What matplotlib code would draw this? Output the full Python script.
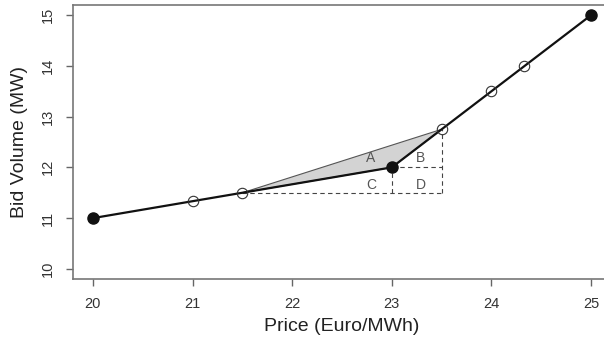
import matplotlib
matplotlib.use("Agg")
import matplotlib.pyplot as plt

# bid curve: kinked piecewise-linear supply
curve_price = [20, 23, 25]
curve_volume = [11, 12, 15]

# observed (filled) and interpolated (open) bid points
filled_price = [20, 23, 25]
filled_volume = [11, 12, 15]
open_price = [21, 21.5, 23.5, 24, 24.33]
open_volume = [11.33, 11.5, 12.75, 13.5, 14]

# shaded triangle between the chord and the kinked curve
tri_price = [21.5, 23.5, 23]
tri_volume = [11.5, 12.75, 12]

area_labels = ["A", "B", "C", "D"]
area_price = [22.79, 23.29, 22.79, 23.29]
area_volume = [12.18, 12.18, 11.66, 11.66]

plt.rcParams["font.family"] = ["Liberation Sans", "DejaVu Sans"]

fig = plt.figure(figsize=(6.04, 3.40), dpi=100)
ax = fig.add_axes([73 / 604, 61 / 340, 538 / 604, 274 / 340])

ax.fill(tri_price, tri_volume, facecolor="#d3d3d3", edgecolor="#555555",
        linewidth=0.8, zorder=1)

dash = dict(color="#444444", linestyle=(0, (4, 3)), linewidth=0.8, zorder=2)
ax.plot([21.5, 23.5], [11.5, 11.5], **dash)
ax.plot([23.5, 23.5], [11.5, 12.75], **dash)
ax.plot([23, 23.5], [12, 12], **dash)
ax.plot([23, 23], [11.5, 12], **dash)

ax.plot(curve_price, curve_volume, color="#111111", linewidth=1.6, zorder=3)
ax.plot(open_price, open_volume, "o", markersize=7.5, markerfacecolor="none",
        markeredgecolor="#333333", markeredgewidth=0.8, zorder=4)
ax.plot(filled_price, filled_volume, "o", markersize=8, color="#111111", zorder=5)

for lab, px, vy in zip(area_labels, area_price, area_volume):
    ax.text(px, vy, lab, ha="center", va="center", fontsize=10, color="#555555")

ax.set_xlim(19.8, 25.2)
ax.set_ylim(9.8, 15.2)
ax.set_xticks([20, 21, 22, 23, 24, 25])
ax.set_yticks([10, 11, 12, 13, 14, 15])
ax.tick_params(colors="#666666", labelcolor="#333333", labelsize=10.5,
               length=5, width=1, pad=8)
for lab in ax.get_yticklabels():
    lab.set_rotation(90)
    lab.set_va("center")
for sp in ax.spines.values():
    sp.set_color("#777777")
    sp.set_linewidth(1.2)

ax.set_xlabel("Price (Euro/MWh)", fontsize=14, color="#222222", labelpad=5)
ax.set_ylabel("Bid Volume (MW)", fontsize=14, color="#222222", labelpad=9)

fig.savefig("out.png", dpi=100)
